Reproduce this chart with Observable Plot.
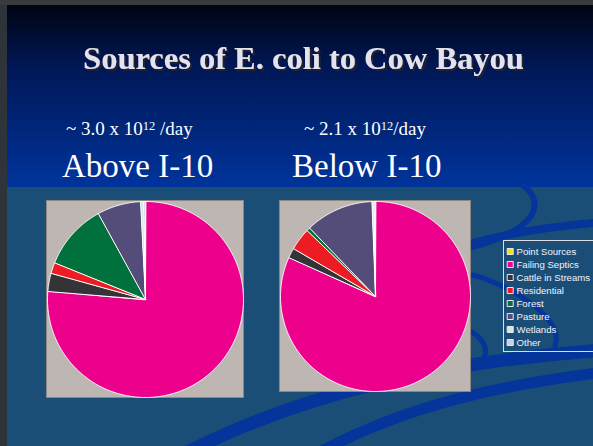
<!DOCTYPE html>
<html><head><meta charset="utf-8">
<script src="https://cdn.jsdelivr.net/npm/d3@7"></script>
<script src="https://cdn.jsdelivr.net/npm/@observablehq/plot@0.6"></script>
<style>
html,body{margin:0;padding:0;background:#1b4e77;}
#slide{position:relative;width:593px;height:446px;overflow:hidden;background:#1b4e77;}
#bg{position:absolute;left:0;top:0;}
.box{position:absolute;box-sizing:border-box;}
.box svg{display:block;}
#pie1{left:46px;top:200px;width:198px;height:198px;border:1px solid #8e8682;}
#pie2{left:279px;top:200px;width:192px;height:192px;border:1px solid #8e8682;}
#legend{left:503px;top:240px;width:100px;height:112px;border:1px solid #dcdce6;}
</style></head><body>
<div id="slide">
<svg id="bg" width="593" height="446">
  <defs>
    <linearGradient id="g" x1="0" y1="0" x2="0" y2="1">
      <stop offset="0" stop-color="#00030c"/><stop offset="0.35" stop-color="#001755"/><stop offset="1" stop-color="#00349c"/>
    </linearGradient>
    <filter id="shadow" x="-5%" y="-20%" width="110%" height="150%">
      <feOffset in="SourceAlpha" dx="2" dy="2" result="off"/>
      <feFlood flood-color="#22222e"/>
      <feComposite in2="off" operator="in" result="sh"/>
      <feMerge><feMergeNode in="sh"/><feMergeNode in="SourceGraphic"/></feMerge>
    </filter>
  </defs>
  <rect x="0" y="0" width="593" height="187" fill="url(#g)"/>
  <g fill="none" stroke="#05349a" stroke-linecap="round">
    <path d="M 180 456 C 290 398, 430 362, 605 350" stroke-width="13"/>
    <path d="M 312 456 C 400 408, 490 386, 605 372" stroke-width="11"/>
    <path d="M 524 186 C 546 204, 536 230, 472 247" stroke-width="6"/>
    <path d="M 470 244 Q 525 228 605 222" stroke-width="8"/>
    <path d="M 473 275 C 510 285, 565 318, 555 346" stroke-width="5"/>
    <path d="M 472 332 C 492 345, 488 362, 472 368" stroke-width="5"/>
  </g>
  <rect x="0" y="0" width="7" height="446" fill="#2f333a"/>
  <rect x="0" y="0" width="593" height="5" fill="#3a3a3e"/>
  <g font-family="'Liberation Serif','Times New Roman',serif">
    <text id="title" x="303.5" y="69" text-anchor="middle" font-size="32.5" font-weight="bold" fill="#e4e2ee" filter="url(#shadow)"></text>
    <text id="sub1" x="66" y="135" font-size="19" fill="#ffffff"></text>
    <text id="sub2" x="304" y="135" font-size="19" fill="#ffffff"></text>
    <text id="lab1" x="62" y="177" font-size="33" fill="#ffffff"></text>
    <text id="lab2" x="292" y="177" font-size="33" fill="#ffffff"></text>
  </g>
</svg>
<div id="pie1" class="box"></div>
<div id="pie2" class="box"></div>
<div id="legend" class="box"></div>
</div>
<script>
const titleText = "Sources of E. coli to Cow Bayou";
const loadLabels = [["~ 3.0 x 10", "12", " /day"], ["~ 2.1 x 10", "12", "/day"]];
const pieLabels = ["Above I-10", "Below I-10"];
const categories = ["Point Sources","Failing Septics","Cattle in Streams","Residential","Forest","Pasture","Wetlands","Other"];
const sliceColors = ["#f2e600","#ec008c","#333338","#ed1c24","#00703c","#544d79","#cfe9dc","#cfcde2"];
const aboveI10 = [0, 76.3, 3.0, 1.8, 10.9, 7.2, 0.5, 0.3];
const belowI10 = [0, 81.7, 1.7, 3.8, 0.6, 11.6, 0.35, 0.25];

// texts
d3.select("#title").text(titleText);
["#sub1", "#sub2"].forEach((id, i) => {
  const t = d3.select(id);
  const [a, sup, b] = loadLabels[i];
  t.append("tspan").text(a);
  t.append("tspan").attr("font-size", 12.5).attr("dy", -5).text(sup);
  t.append("tspan").attr("dy", 5).text(b);
});
d3.select("#lab1").text(pieLabels[0]);
d3.select("#lab2").text(pieLabels[1]);

// pie slice outlines from cumulative shares (12 o'clock, clockwise)
function slicePoints(values) {
  const total = d3.sum(values);
  const pts = [];
  let acc = 0;
  categories.forEach((cat, i) => {
    const v = values[i];
    if (!(v > 0)) return;
    const a0 = acc / total * 2 * Math.PI, a1 = (acc + v) / total * 2 * Math.PI;
    acc += v;
    const n = Math.max(2, Math.ceil((a1 - a0) / (Math.PI / 360)));
    pts.push({cat, x: 0, y: 0});
    for (let k = 0; k <= n; k++) {
      const a = a0 + (a1 - a0) * k / n;
      pts.push({cat, x: Math.sin(a), y: Math.cos(a)});
    }
  });
  return pts;
}

function pie(values, size) {
  return Plot.plot({
    width: size, height: size, margin: 0,
    x: {domain: [-1, 1], axis: null},
    y: {domain: [-1, 1], axis: null},
    color: {domain: categories, range: sliceColors},
    style: {background: "#beb6b3", overflow: "visible"},
    marks: [
      Plot.line(slicePoints(values), {x: "x", y: "y", z: "cat", fill: "cat", stroke: "white", strokeWidth: 1, strokeLinejoin: "round", curve: "linear-closed"})
    ]
  });
}

document.getElementById("pie1").append(pie(aboveI10, 196));
document.getElementById("pie2").append(pie(belowI10, 190));

const legend = Plot.plot({
  width: 98, height: 110, margin: 0,
  y: {type: "point", domain: categories, range: [7.3, 103.7], padding: 0, axis: null},
  color: {domain: categories, range: sliceColors},
  style: {background: "transparent", overflow: "visible"},
  marks: [
    Plot.dot(categories, {y: d => d, frameAnchor: "left", dx: 5.7, symbol: "square", r: 3.4, fill: d => d, stroke: "#e8e8ee", strokeWidth: 1}),
    Plot.text(categories, {y: d => d, text: d => d, frameAnchor: "left", dx: 12, textAnchor: "start", fill: "#f2f2fa", fontSize: 9.6, fontFamily: "'Liberation Sans', Arial, sans-serif"})
  ]
});
document.getElementById("legend").append(legend);
</script>
</body></html>
